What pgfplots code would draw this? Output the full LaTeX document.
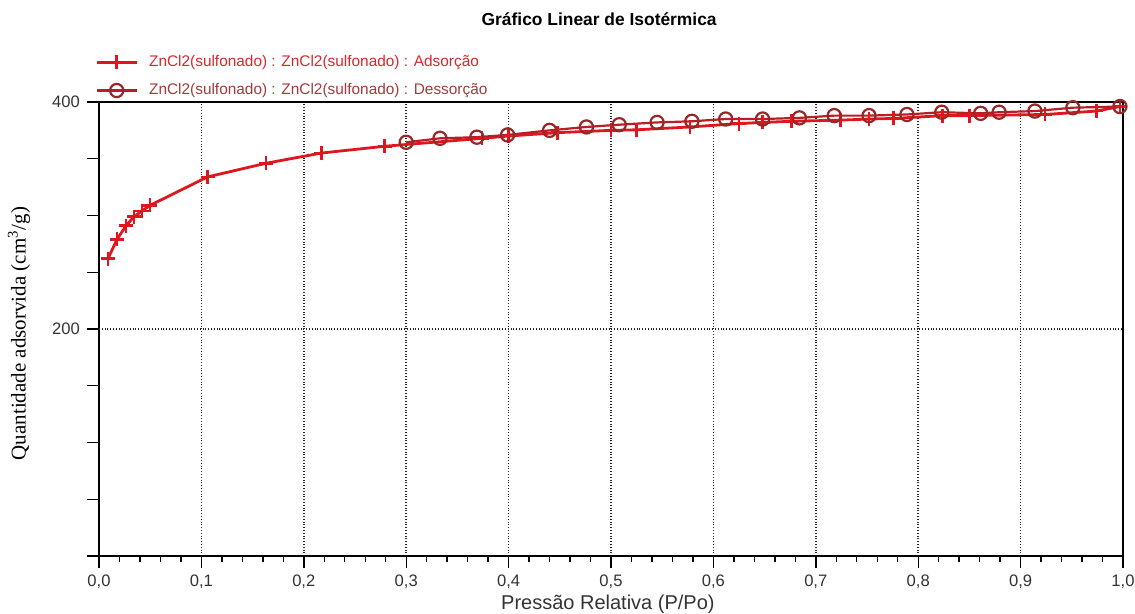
\documentclass[border=0pt]{standalone}
\usepackage{fontspec}
\setmainfont{Liberation Sans}
\newfontfamily\seriffont{Liberation Serif}
\usepackage{pgfplots}
\pgfplotsset{compat=1.18}
\definecolor{adsred}{RGB}{224,22,30}
\definecolor{desline}{RGB}{185,30,38}
\definecolor{desmark}{RGB}{150,40,40}
\definecolor{adstext}{RGB}{215,40,45}
\definecolor{destext}{RGB}{160,60,60}
\begin{document}
\begin{tikzpicture}
\useasboundingbox (-49.5pt,-29pt) rectangle (518pt,278pt);
\begin{axis}[
  at={(0,0)}, anchor=south west,
  scale only axis, width=512pt, height=227pt,
  xmin=0, xmax=1, ymin=0, ymax=400,
  /pgf/number format/assume math mode=true,
  xtick={0,0.1,0.2,0.3,0.4,0.5,0.6,0.7,0.8,0.9,1.0},
  minor x tick num=4,
  xticklabel={\pgfmathprintnumber[fixed,fixed zerofill,precision=1,use comma]{\tick}},
  ytick={0,50,100,150,200,250,300,350,400},
  yticklabels={,,,,200,,,,400},
  extra y ticks={200}, extra y tick labels={},
  extra y tick style={grid=major},
  xmajorgrids=true,
  major grid style={black!85, densely dotted, line width=0.8pt},
  tick align=outside, tick pos=left,
  major tick length=6pt, minor tick length=3pt,
  tick style={black, line width=0.7pt},
  axis line style={black, line width=0.8pt},
  ticklabel style={font=\fontsize{8.3}{9}\selectfont, text=black!80},
  title={\textbf{Gráfico Linear de Isotérmica}},
  title style={at={(axis description cs:0.4885,1.185)}, anchor=center, yshift=-6.5pt, font=\fontsize{8.7}{10}\selectfont},
  xlabel={Pressão Relativa (P/Po)},
  xlabel style={at={(axis description cs:0.497,-0.106)}, anchor=center, font=\fontsize{10}{11}\selectfont, text=black!80},
  ylabel={Quantidade adsorvida (cm\textsuperscript{3}/g)},
  ylabel style={at={(axis description cs:-0.078,0.49)}, anchor=center, font=\seriffont\fontsize{10.5}{12}\selectfont},
  legend style={at={(axis description cs:-0.004,1.0)}, anchor=south west, draw=none, fill=none,
    font=\fontsize{7.7}{9}\selectfont, row sep=3pt, inner sep=0pt,
    /tikz/every odd column/.append style={column sep=3.5pt}},
  legend cell align=left,
  legend image code/.code={\draw[mark repeat=2,mark phase=2] plot coordinates {(0pt,0pt) (10pt,0pt) (20pt,0pt)};},
]
\addplot[adsred, line width=1.4pt, mark=+, mark size=3.5pt, mark options={line width=1.3pt}] coordinates {
(0.0088,262) (0.0176,279) (0.0264,291) (0.0342,299) (0.042,304) (0.050,309)
(0.106,334) (0.163,346) (0.217,355) (0.279,361) (0.374,368) (0.40,370)
(0.448,373) (0.500,375) (0.525,375.5) (0.577,378) (0.625,381) (0.648,382)
(0.676,383) (0.724,384) (0.752,385) (0.776,385.5) (0.824,388) (0.850,388)
(0.924,389) (0.974,392) (0.997,396)
};
\addlegendentry{\textcolor{adstext}{ZnCl2(sulfonado) : ZnCl2(sulfonado) : Adsorção}}
\addplot[desline, line width=1.1pt, mark=o, mark size=3.3pt, mark options={desmark, line width=1.1pt, fill=none}] coordinates {
(0.997,396) (0.951,395) (0.914,392) (0.879,391) (0.861,390) (0.823,391)
(0.789,389) (0.752,388) (0.718,388) (0.684,386) (0.648,385) (0.612,385)
(0.579,383) (0.545,382) (0.508,380) (0.476,378) (0.440,375) (0.399,371)
(0.369,369) (0.333,368) (0.300,364.5)
};
\addlegendentry{\textcolor{destext}{ZnCl2(sulfonado) : ZnCl2(sulfonado) : Dessorção}}
\end{axis}
\end{tikzpicture}
\end{document}
